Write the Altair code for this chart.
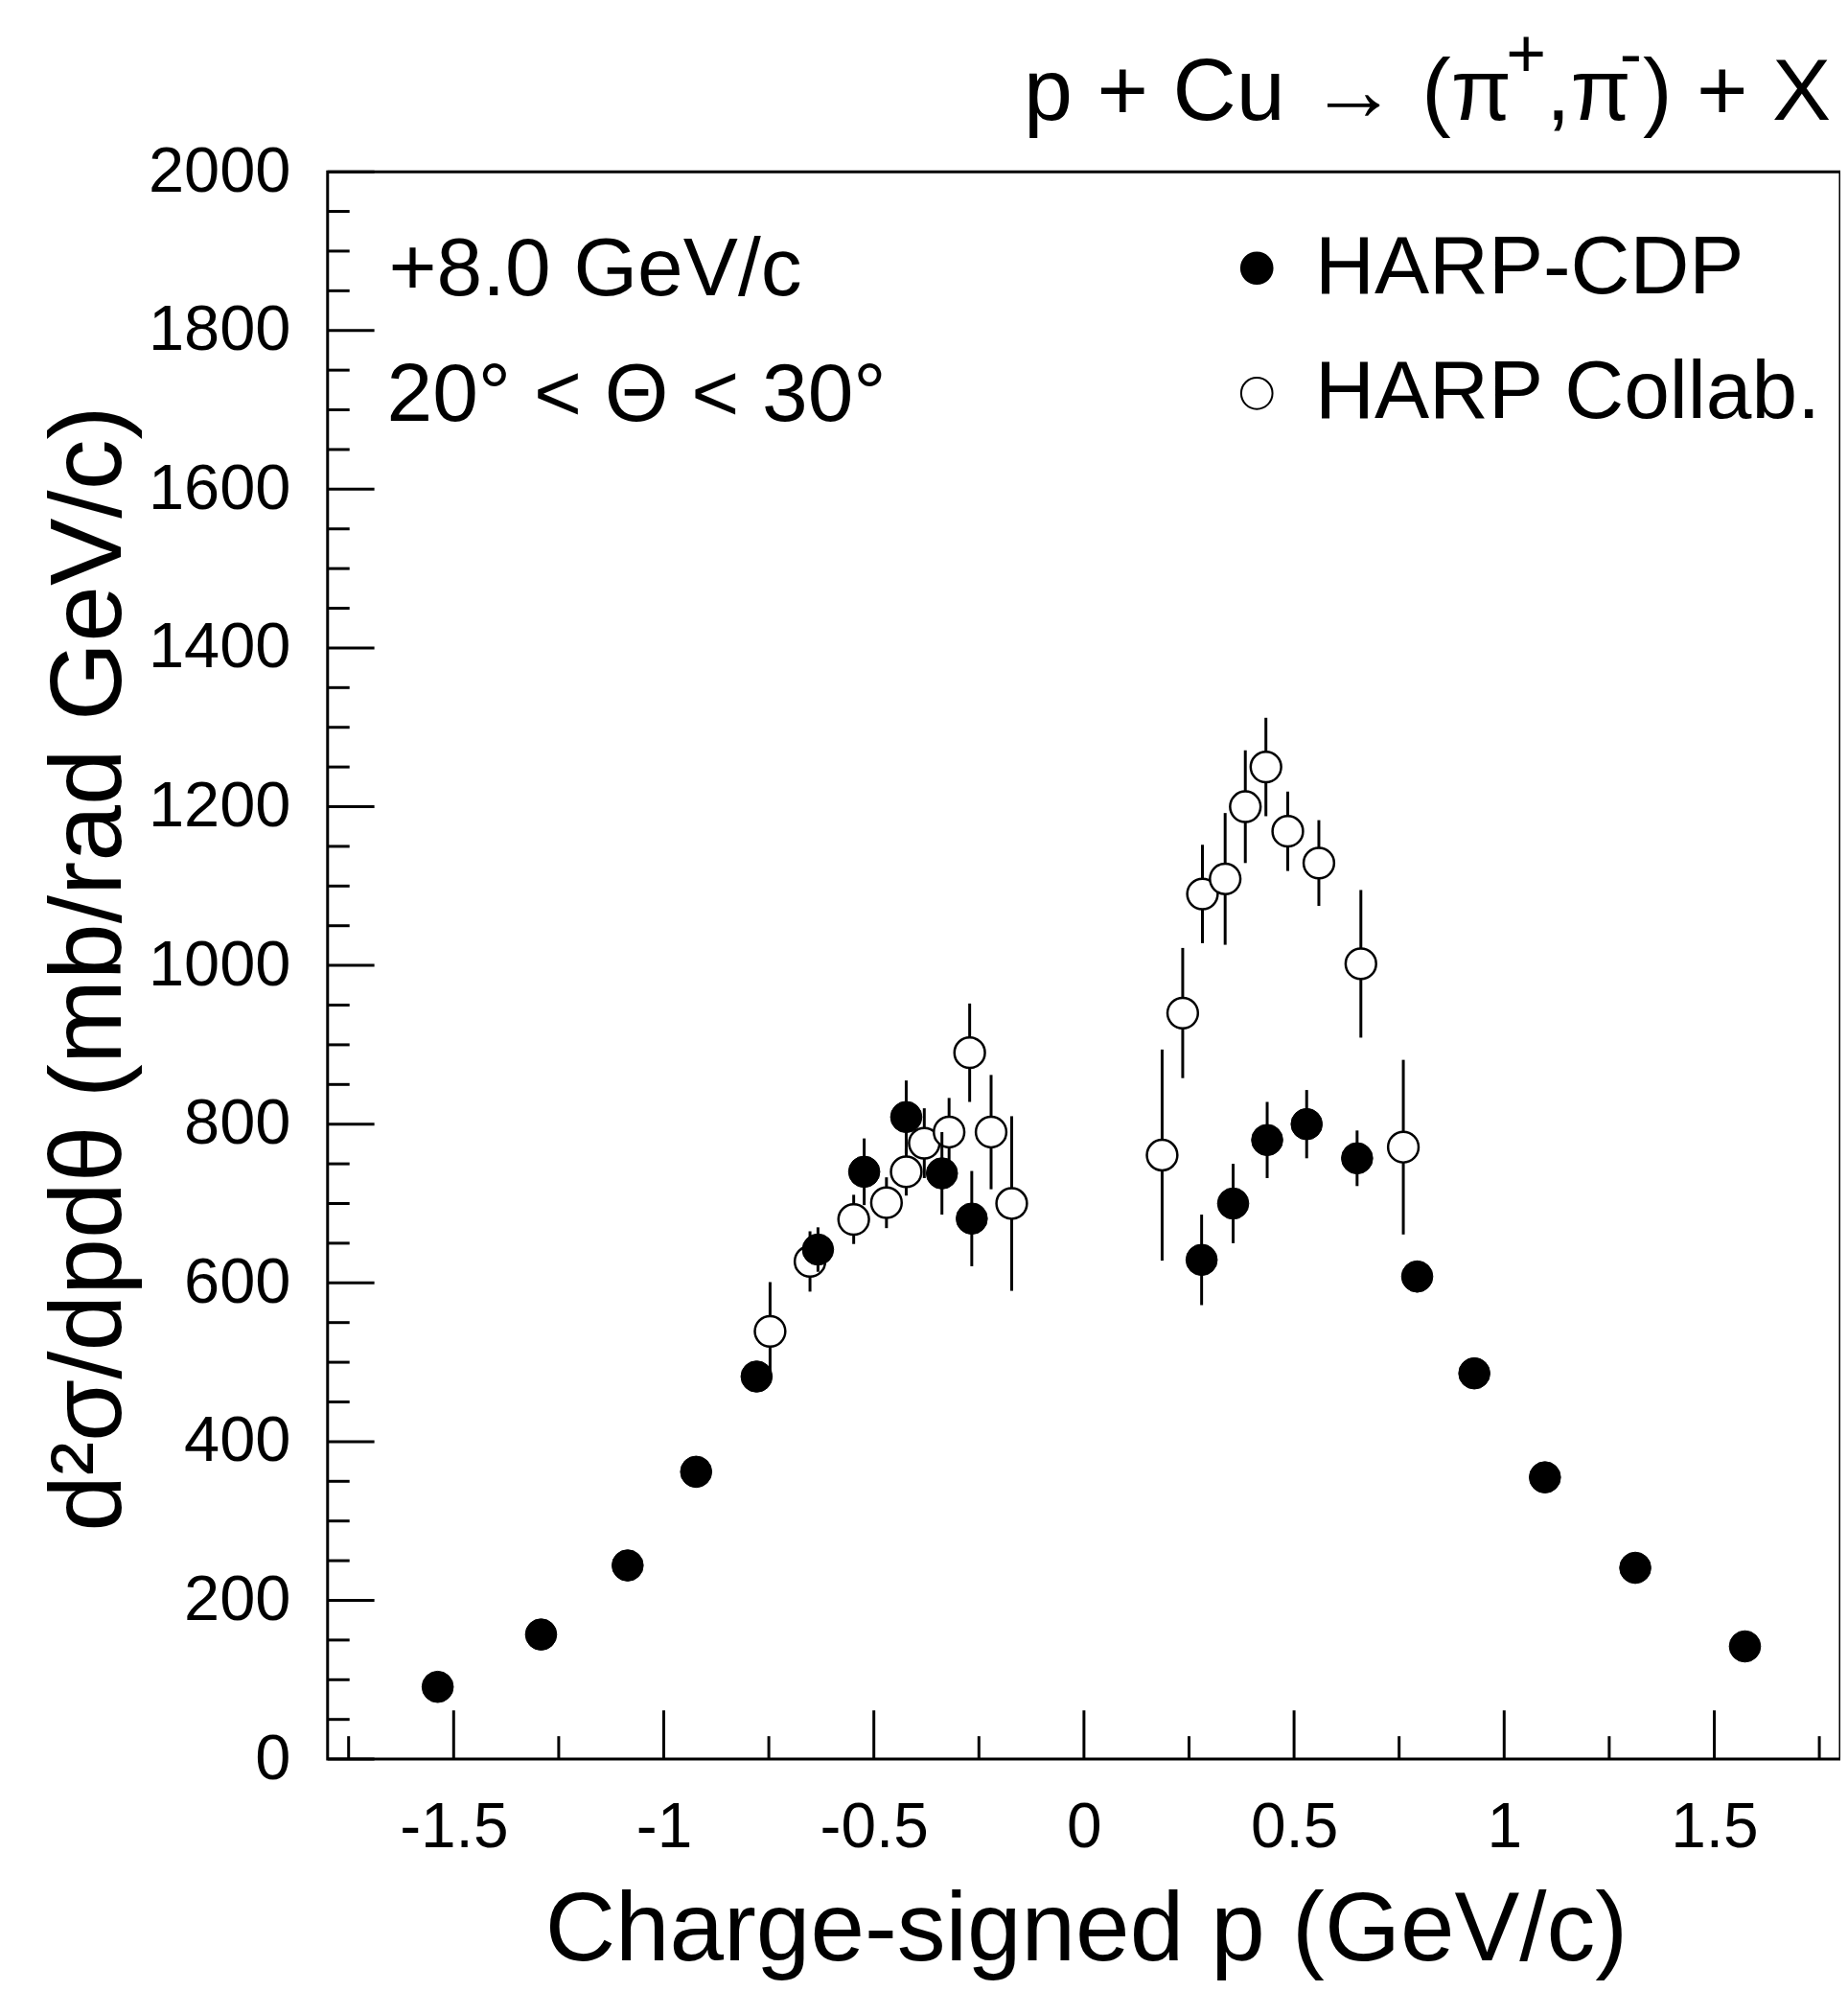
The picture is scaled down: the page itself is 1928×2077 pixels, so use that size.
import altair as alt
import pandas as pd

# ---------------- data ----------------
# HARP-CDP (filled circles)
p_cdp = [-1.538, -1.292, -1.086, -0.923, -0.779, -0.633, -0.523, -0.423, -0.338, -0.267,
         0.280, 0.355, 0.436, 0.530, 0.650, 0.793, 0.929, 1.097, 1.312, 1.573]
v_cdp = [91, 157, 244, 362, 482, 642, 740, 809, 738, 681,
         629, 700, 780, 800, 757, 608, 486, 355, 241, 142]
e_cdp = [10, 12, 14, 16, 18, 28, 42, 46, 52, 60,
         57, 50, 48, 43, 35, 20, 16, 14, 12, 10]

# HARP Collaboration (open circles)
p_harp = [-0.747, -0.652, -0.548, -0.470, -0.423, -0.380, -0.321, -0.272, -0.221, -0.172,
          0.186, 0.235, 0.282, 0.336, 0.384, 0.433, 0.485, 0.559, 0.659, 0.760]
v_harp = [539, 627, 680, 701, 740, 776, 790, 890, 790, 700,
          761, 940, 1090, 1109, 1200, 1250, 1169, 1129, 1002, 771]
e_harp = [62, 38, 31, 32, 30, 44, 43, 62, 72, 110,
          133, 82, 62, 83, 71, 62, 50, 54, 93, 110]

series_names = ["HARP-CDP", "HARP Collab."]

x_major = [-1.5, -1.0, -0.5, 0.0, 0.5, 1.0, 1.5]
x_minor = [-1.75, -1.25, -0.75, -0.25, 0.25, 0.75, 1.25, 1.75]
y_major = [0, 200, 400, 600, 800, 1000, 1200, 1400, 1600, 1800, 2000]
y_minor = [50, 100, 150, 250, 300, 350, 450, 500, 550, 650, 700, 750, 850, 900, 950,
           1050, 1100, 1150, 1250, 1300, 1350, 1450, 1500, 1550, 1650, 1700, 1750,
           1850, 1900, 1950]

beam_label = "+8.0 GeV/c"
angle_label = "20° < Θ < 30°"
title_parts = ["p + Cu → (π", "+", ",π", "-", ") + X"]
x_title = "Charge-signed p (GeV/c)"
y_title = "d²σ/dpdθ (mb/rad GeV/c)"

# ---------------- tables ----------------
df_cdp = pd.DataFrame({"p": p_cdp, "v": v_cdp, "e": e_cdp})
df_cdp["lo"] = df_cdp["v"] - df_cdp["e"]
df_cdp["hi"] = df_cdp["v"] + df_cdp["e"]
df_cdp["series"] = series_names[0]

df_harp = pd.DataFrame({"p": p_harp, "v": v_harp, "e": e_harp})
df_harp["lo"] = df_harp["v"] - df_harp["e"]
df_harp["hi"] = df_harp["v"] + df_harp["e"]
df_harp["series"] = series_names[1]

W, H = 1584, 1662
FONT = "Liberation Sans"

xs = alt.Scale(domain=[-1.8, 1.8], nice=False, zero=False)
ys = alt.Scale(domain=[0, 2000], nice=False, zero=False)

xaxis = alt.Axis(values=x_major, labelExpr="toString(datum.value)", title=x_title,
                 ticks=False, tickSize=0, domain=False, grid=False,
                 labelFont=FONT, labelFontSize=66, labelPadding=40, labelColor="black",
                 labelFlush=False, labelOverlap=False,
                 titleFont=FONT, titleFontSize=102, titleFontWeight="normal", titleColor="black",
                 titleX=W / 2 + 2, titleY=210, titleBaseline="alphabetic", titleAlign="center")
yaxis = alt.Axis(values=y_major, format="d", title=y_title,
                 ticks=False, tickSize=0, domain=False, grid=False,
                 labelFont=FONT, labelFontSize=67, labelPadding=39, labelColor="black",
                 labelFlush=False, labelOverlap=False,
                 titleFont=FONT, titleFontSize=106, titleFontWeight="normal", titleColor="black",
                 titleAngle=270, titleX=-217, titleY=834, titleBaseline="alphabetic",
                 titleAlign="center")


def X(f):
    return alt.X(f"{f}:Q", scale=xs, axis=xaxis)


def Y(f):
    return alt.Y(f"{f}:Q", scale=ys, axis=yaxis)


fill_enc = alt.Fill("series:N",
                    scale=alt.Scale(domain=series_names, range=["black", "white"]),
                    legend=alt.Legend(orient="none", legendX=930, legendY=58, title=None,
                                      labelFont=FONT, labelFontSize=86, labelColor="black",
                                      labelLimit=0,
                                      symbolType="circle", symbolSize=1075,
                                      symbolStrokeColor="black", symbolStrokeWidth=2,
                                      labelOffset=18, rowPadding=45, padding=0))

harp_err = alt.Chart(df_harp).mark_rule(color="black", strokeWidth=3).encode(
    x=X("p"), y=Y("lo"), y2=alt.Y2("hi"))
harp_pts = alt.Chart(df_harp).mark_point(shape="circle", filled=True, size=1020, opacity=1,
                                         stroke="black", strokeWidth=2.5).encode(
    x=X("p"), y=Y("v"), fill=fill_enc)
cdp_err = alt.Chart(df_cdp).mark_rule(color="black", strokeWidth=3).encode(
    x=X("p"), y=Y("lo"), y2=alt.Y2("hi"))
cdp_pts = alt.Chart(df_cdp).mark_point(shape="circle", filled=True, size=1075, opacity=1,
                                       stroke="black", strokeWidth=1).encode(
    x=X("p"), y=Y("v"), fill=fill_enc)


def xticks(vals, length):
    return alt.Chart(pd.DataFrame({"t": vals})).mark_rule(color="black", strokeWidth=3).encode(
        x=X("t"), y=alt.value(H), y2=alt.value(H - length))


def yticks(vals, length):
    return alt.Chart(pd.DataFrame({"t": vals})).mark_rule(color="black", strokeWidth=3).encode(
        y=Y("t"), x=alt.value(0), x2=alt.value(length))


def label(text, x, y, size, align="left"):
    return alt.Chart(pd.DataFrame({"s": [text]})).mark_text(
        font=FONT, fontSize=size, color="black", align=align, baseline="alphabetic").encode(
        text="s:N", x=alt.value(x), y=alt.value(y))


layers = [
    harp_err, harp_pts, cdp_err, cdp_pts,
    xticks(x_major, 51), xticks(x_minor, 24),
    yticks(y_major, 49), yticks(y_minor, 23),
    label(beam_label, 64, 129, 86),
    label(angle_label, 62, 261, 86),
    label(title_parts[0], 729, -54, 92),
    label(title_parts[1], 1234, -100, 72),
    label(title_parts[2], 1276, -54, 92),
    label(title_parts[3], 1353, -100, 70),
    label(title_parts[4], 1574, -54, 92, align="right"),
]

chart = alt.layer(*layers).properties(
    width=W, height=H,
    autosize=alt.AutoSizeParams(type="none"),
    padding={"left": 335, "top": 168, "right": 0, "bottom": 230},
    background="white",
).configure_view(stroke="black", strokeWidth=3)

chart.save("out.html", embed_options={"renderer": "svg", "actions": False})
